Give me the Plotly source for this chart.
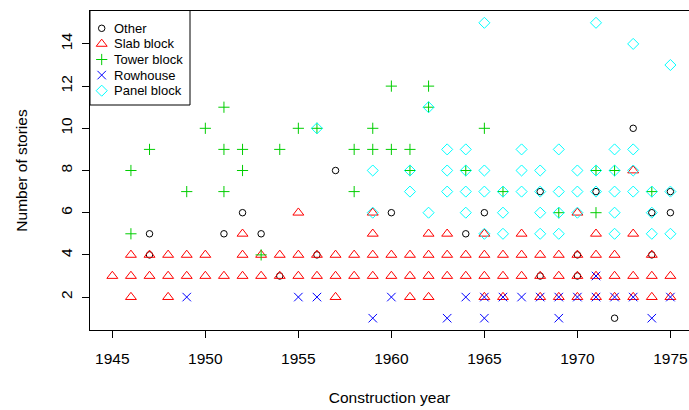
import plotly.graph_objects as go

# ---- data (construction year, number of stories) per building type ----
other_year = [1947, 1947, 1951, 1952, 1953, 1954, 1956, 1957, 1960, 1964, 1965, 1968, 1968,
              1970, 1970, 1971, 1972, 1973, 1974, 1974, 1975, 1975]
other_stories = [5, 4, 5, 6, 5, 3, 4, 8, 6, 5, 6, 7, 3,
                 3, 4, 7, 1, 10, 6, 4, 7, 6]

slab_year = (
    [1955, 1959, 1970]
    + [1952, 1959, 1962, 1963, 1965, 1967, 1971, 1973]
    + [1973]
    + [1946, 1947, 1948, 1949, 1950, 1952, 1953, 1954, 1955, 1956, 1957, 1958, 1959, 1960,
       1961, 1962, 1963, 1964, 1965, 1966, 1967, 1968, 1969, 1970, 1971, 1972, 1974]
    + list(range(1945, 1976))
    + [1946, 1948, 1957, 1961, 1962, 1965, 1966, 1968, 1969, 1970, 1971, 1972, 1973, 1974, 1975]
)
slab_stories = (
    [6] * 3
    + [5] * 8
    + [8]
    + [4] * 27
    + [3] * 31
    + [2] * 15
)

tower_year = [1946, 1946, 1947, 1949, 1950, 1951, 1951, 1951, 1952, 1952, 1953, 1954, 1955,
              1956, 1958, 1958, 1959, 1959, 1960, 1960, 1961, 1961, 1962, 1962, 1964, 1965,
              1966, 1969, 1971, 1971, 1972, 1974]
tower_stories = [8, 5, 9, 7, 10, 11, 9, 7, 9, 8, 4, 9, 10,
                 10, 9, 7, 10, 9, 12, 9, 9, 8, 12, 11, 8, 10,
                 7, 6, 8, 6, 8, 7]

row_year = [1949, 1955, 1956, 1960, 1964, 1965, 1966, 1967, 1968, 1969, 1970, 1971, 1972,
            1973, 1975, 1971, 1959, 1963, 1965, 1969, 1974]
row_stories = [2, 2, 2, 2, 2, 2, 2, 2, 2, 2, 2, 2, 2,
               2, 2, 3, 1, 1, 1, 1, 1]

panel_year = [1956, 1959, 1959, 1961, 1961, 1962, 1962, 1963, 1963, 1963, 1964, 1964, 1964,
              1964, 1965, 1965, 1965, 1965, 1966, 1966, 1966, 1967, 1967, 1967, 1968, 1968,
              1968, 1968, 1969, 1969, 1969, 1969, 1970, 1970, 1970, 1971, 1971, 1971, 1972,
              1972, 1972, 1972, 1972, 1973, 1973, 1973, 1973, 1974, 1974, 1974, 1975, 1975,
              1975]
panel_stories = [10, 8, 6, 8, 7, 11, 6, 9, 8, 7, 9, 8, 7,
                 6, 15, 8, 7, 5, 7, 6, 5, 9, 8, 7, 8, 7,
                 6, 5, 9, 7, 6, 5, 8, 7, 6, 15, 8, 7, 9,
                 8, 7, 6, 5, 14, 9, 8, 7, 7, 6, 5, 13, 7,
                 5]

legend_labels = ["Other", "Slab block", "Tower block", "Rowhouse", "Panel block"]
x_ticks = [1945, 1950, 1955, 1960, 1965, 1970, 1975]
y_ticks = [2, 4, 6, 8, 10, 12, 14]

FONT = "Liberation Sans, Arial, sans-serif"

W, H = 689, 410
ML, MR, MT, MB = 90, 0, 11, 80
PW, PH = W - ML - MR, H - MT - MB

styles = [
    ("circle-open", 6.5, "#000000"),
    ("triangle-up-open", 9.5, "#FF0000"),
    ("cross-thin-open", 8, "#00CD00"),
    ("x-thin-open", 8.5, "#0000FF"),
    ("diamond-open", 8.5, "#00FFFF"),
]
data = [
    (other_year, other_stories),
    (slab_year, slab_stories),
    (tower_year, tower_stories),
    (row_year, row_stories),
    (panel_year, panel_stories),
]

fig = go.Figure()
for (xs, ys), name, (sym, size, col) in zip(data, legend_labels, styles):
    fig.add_trace(go.Scatter(
        x=xs, y=ys, mode="markers", name=name, showlegend=False,
        marker=dict(symbol=sym, size=size, color=col,
                    line=dict(color=col, width=1)),
    ))

# ---- legend box (R style), drawn on a pixel-space overlay axis ----
LEG_W, LEG_TOP, LEG_BOTTOM = 100, -1, 94
SYM_X, TXT_X, ROW0, ROW_STEP = 11.7, 22, 17.3, 15.6
for i, (name, (sym, size, col)) in enumerate(zip(legend_labels, styles)):
    yy = ROW0 + i * ROW_STEP
    fig.add_trace(go.Scatter(
        x=[SYM_X], y=[yy], xaxis="x2", yaxis="y2", mode="markers",
        showlegend=False, hoverinfo="skip",
        marker=dict(symbol=sym, size=size, color=col, line=dict(color=col, width=1)),
    ))
    fig.add_annotation(
        x=TXT_X, y=yy, xref="x2", yref="y2", text=name, showarrow=False,
        xanchor="left", yanchor="middle",
        font=dict(family=FONT, size=13, color="#000000"),
    )
fig.add_shape(type="rect", xref="x2", yref="y2", x0=0, x1=LEG_W, y0=LEG_TOP, y1=LEG_BOTTOM,
              line=dict(color="#000000", width=1), fillcolor="rgba(0,0,0,0)", layer="above")

fig.update_layout(
    width=W, height=H,
    margin=dict(l=ML, r=MR, t=MT, b=MB),
    paper_bgcolor="white", plot_bgcolor="white",
    font=dict(family=FONT, size=15.5, color="#000000"),
    showlegend=False,
    xaxis2=dict(overlaying="x", range=[0, PW], visible=False, fixedrange=True,
                showline=False, showgrid=False, zeroline=False),
    yaxis2=dict(overlaying="y", range=[PH, 0], visible=False, fixedrange=True,
                showline=False, showgrid=False, zeroline=False),
)
fig.layout.xaxis.update(
    range=[1943.8, 1976.0], tickvals=x_ticks, ticktext=[str(v) for v in x_ticks],
    showgrid=False, zeroline=False, automargin=False,
    showline=True, linecolor="#000000", linewidth=1, mirror=True,
    ticks="outside", ticklen=7, tickcolor="#000000", tickwidth=1,
    ticklabelstandoff=7,
    title=dict(text="Construction year", standoff=26, font=dict(family=FONT, size=15.5)),
)
fig.layout.yaxis.update(
    range=[0.44, 15.56], tickvals=y_ticks, ticktext=[str(v) for v in y_ticks],
    tickangle=-90,
    showgrid=False, zeroline=False, automargin=False,
    showline=True, linecolor="#000000", linewidth=1, mirror=False,
    ticks="outside", ticklen=7, tickcolor="#000000", tickwidth=1,
    ticklabelstandoff=4,
    title=dict(text="Number of stories", standoff=26, font=dict(family=FONT, size=15.5)),
)

# remove the browser's default 8px body margin so the figure sits at the page origin
fig.write_html("out.html", config={"displayModeBar": False},
               post_script="document.body.style.margin='0';")
